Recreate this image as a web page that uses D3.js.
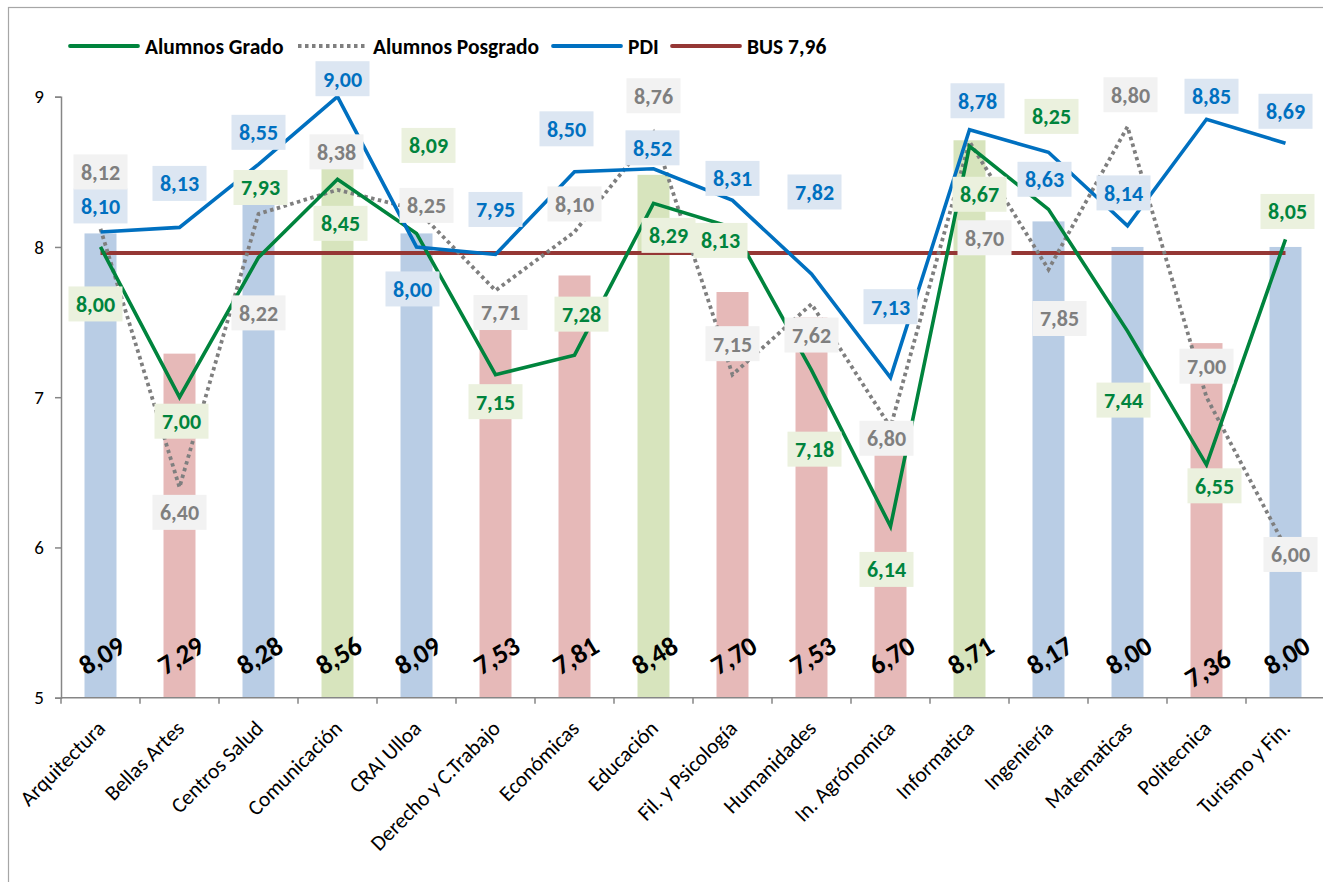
<!DOCTYPE html>
<html>
<head>
<meta charset="utf-8">
<script src="https://cdn.jsdelivr.net/npm/d3@7"></script>
<style>
  html, body { margin: 0; padding: 0; background: #fff; }
  svg { display: block; font-family: Carlito, Calibri, Lato, "Noto Sans", sans-serif; }
</style>
</head>
<body>
<svg id="chart" width="1323" height="882"></svg>
<script>
// Satisfaction scores by centre
const categories = ["Arquitectura", "Bellas Artes", "Centros Salud", "Comunicación", "CRAI Ulloa",
  "Derecho y C.Trabajo", "Económicas", "Educación", "Fil. y Psicología", "Humanidades",
  "In. Agrónomica", "Informatica", "Ingeniería", "Matematicas", "Politecnica", "Turismo y Fin."];

const barValues      = [8.09, 7.29, 8.28, 8.56, 8.09, 7.53, 7.81, 8.48, 7.70, 7.53, 6.70, 8.71, 8.17, 8.00, 7.36, 8.00];
const alumnosGrado   = [8.00, 7.00, 7.93, 8.45, 8.09, 7.15, 7.28, 8.29, 8.13, 7.18, 6.14, 8.67, 8.25, 7.44, 6.55, 8.05];
const alumnosPosgrado= [8.12, 6.40, 8.22, 8.38, 8.25, 7.71, 8.10, 8.76, 7.15, 7.62, 6.80, 8.70, 7.85, 8.80, 7.00, 6.00];
const pdi            = [8.10, 8.13, 8.55, 9.00, 8.00, 7.95, 8.50, 8.52, 8.31, 7.82, 7.13, 8.78, 8.63, 8.14, 8.85, 8.69];
const busValue = 7.96;
const yTicks = [5, 6, 7, 8, 9];

// Label placement: offset of each label box centre from its point [dx, dy]
const pdiLabelPos = [[0,-26],[0,-44],[0,-32],[5,-18],[-4,42],[0,-45],[-8,-43],[-1,-21],[0,-22],[3,-82],[0,-71],[8,-29],[-4,27],[-4,-33],[5,-23],[0,-32]];
const gradoLabelPos = [[-5,57],[2,24],[2,-70],[3,44],[12,-88],[0,27],[7,-41],[15,32],[-12,13],[3,79],[-4,43],[10,48],[3,-93],[-4,69],[8,21],[2,-28]];
const posgradoLabelPos = [[0,-57],[0,25],[0,99],[-1,-38],[10,-4],[5,22],[0,-28],[0,-37],[0,-31],[0,31],[-4,11],[15,96],[11,49],[3,-32],[0,-31],[5,7]];
const barLabelDy = [0,0,0,0,0,0,0,0,0,0,0,0,0,0,13,0];

const svg = d3.select("#chart");
const fmt = v => d3.format(".2f")(v).replace(".", ",");
const font = "Carlito, Calibri, Lato, sans-serif";

const plotLeft = 61, bandStep = 79, plotTop = 96.7, plotBottom = 697.7;
const x = d3.scaleBand().domain(categories).range([plotLeft, plotLeft + bandStep * categories.length]).padding(0);
const y = d3.scaleLinear().domain([5, 9]).range([plotBottom, plotTop]);
const cx = c => x(c) + x.bandwidth() / 2;

// outer chart frame
svg.append("rect").attr("x", 8.5).attr("y", 7.5).attr("width", 1340).attr("height", 900)
  .attr("fill", "none").attr("stroke", "#a6a6a6").attr("stroke-width", 1.2);

// bars
const barColor = v => v < busValue ? "#e6b9b8" : (v >= 8.4 ? "#d7e4bd" : "#b9cde5");
const barW = x.bandwidth() * 0.405;
svg.append("g").selectAll("rect").data(categories).join("rect")
  .attr("x", c => cx(c) - barW / 2)
  .attr("y", (c, i) => y(barValues[i]))
  .attr("width", barW)
  .attr("height", (c, i) => y(5) - y(barValues[i]))
  .attr("fill", (c, i) => barColor(barValues[i]));

// axes
const yAxis = svg.append("g").attr("transform", `translate(${plotLeft},0)`)
  .call(d3.axisLeft(y).tickValues(yTicks).tickSize(6).tickPadding(11).tickFormat(d3.format("d")));
yAxis.select(".domain").attr("stroke", "#868686").attr("stroke-width", 1.5);
yAxis.selectAll(".tick line").attr("stroke", "#868686").attr("stroke-width", 1.5);
yAxis.selectAll(".tick text").attr("fill", "#000").style("font-size", "19px").style("font-family", font);

const xAxis = svg.append("g").attr("transform", `translate(0,${plotBottom})`)
  .call(d3.axisBottom(x).tickSize(0).tickPadding(0));
xAxis.select(".domain").attr("d", `M${plotLeft},0H1323`).attr("stroke", "#868686").attr("stroke-width", 1.5);
xAxis.selectAll(".tick text")
  .attr("text-anchor", "end")
  .attr("fill", "#000")
  .style("font-size", "21.5px")
  .style("font-family", font)
  .attr("y", 0).attr("dy", 0)
  .attr("transform", "translate(6,32) rotate(-45)");
// boundary ticks between categories
svg.append("g").selectAll("line").data(categories).join("line")
  .attr("x1", c => x(c)).attr("x2", c => x(c))
  .attr("y1", plotBottom).attr("y2", plotBottom + 6)
  .attr("stroke", "#868686").attr("stroke-width", 1.5);

// BUS reference line
svg.append("line")
  .attr("x1", cx(categories[0])).attr("x2", cx(categories[categories.length - 1]))
  .attr("y1", y(busValue)).attr("y2", y(busValue))
  .attr("stroke", "#953735").attr("stroke-width", 4);

// series lines
const series = [
  { name: "Alumnos Posgrado", values: alumnosPosgrado, color: "#7f7f7f", text: "#7f7f7f", bg: "#f2f2f2", dash: "3.5 3.5", pos: posgradoLabelPos },
  { name: "Alumnos Grado", values: alumnosGrado, color: "#00843d", text: "#00843d", bg: "#ebf1de", dash: null, pos: gradoLabelPos },
  { name: "PDI", values: pdi, color: "#0070c0", text: "#0070c0", bg: "#dce6f2", dash: null, pos: pdiLabelPos }
];
const line = d3.line().x(d => cx(d.c)).y(d => y(d.v));
series.forEach(s => {
  svg.append("path")
    .datum(categories.map((c, i) => ({ c, v: s.values[i] })))
    .attr("d", line)
    .attr("fill", "none")
    .attr("stroke", s.color)
    .attr("stroke-width", s.dash ? 3.8 : 3.6)
    .attr("stroke-linejoin", "miter")
    .attr("stroke-dasharray", s.dash);
});

// bar value labels
svg.append("g").selectAll("text").data(categories).join("text")
  .attr("transform", (c, i) => `translate(${cx(c) + 1},${655 + barLabelDy[i]}) rotate(-31)`)
  .attr("text-anchor", "middle").attr("dy", "0.36em")
  .style("font-size", "27px").style("font-weight", "bold").attr("fill", "#000")
  .text((c, i) => fmt(barValues[i]));

// data labels in boxes
const boxW = 54, boxH = 35;
[series[2], series[1], series[0]].forEach(s => {
  const g = svg.append("g").selectAll("g").data(categories).join("g")
    .attr("transform", (c, i) => `translate(${cx(c) + s.pos[i][0]},${y(s.values[i]) + s.pos[i][1]})`);
  g.append("rect").attr("x", -boxW / 2).attr("y", -boxH / 2).attr("width", boxW).attr("height", boxH).attr("fill", s.bg);
  g.append("text").attr("text-anchor", "middle").attr("dy", "0.36em")
    .style("font-size", "22px").style("font-weight", "bold").attr("fill", s.text)
    .text((c, i) => fmt(s.values[i]));
});

// legend
const legend = [
  { label: "Alumnos Grado", color: "#00843d", dash: null, x: 70 },
  { label: "Alumnos Posgrado", color: "#7f7f7f", dash: "3.5 3.5", x: 298 },
  { label: "PDI", color: "#0070c0", dash: null, x: 553 },
  { label: "BUS 7,96", color: "#953735", dash: null, x: 672 }
];
const lg = svg.append("g").selectAll("g").data(legend).join("g")
  .attr("transform", d => `translate(${d.x},46)`);
lg.append("line").attr("x1", 0).attr("x2", 68).attr("y1", 0).attr("y2", 0)
  .attr("stroke", d => d.color).attr("stroke-width", 3.8)
  .attr("stroke-dasharray", d => d.dash).attr("stroke-linecap", d => d.dash ? "butt" : "round");
lg.append("text").attr("x", 75).attr("dy", "0.36em")
  .style("font-size", "21.5px").style("font-weight", "bold").attr("fill", "#000")
  .text(d => d.label);
</script>
</body>
</html>
